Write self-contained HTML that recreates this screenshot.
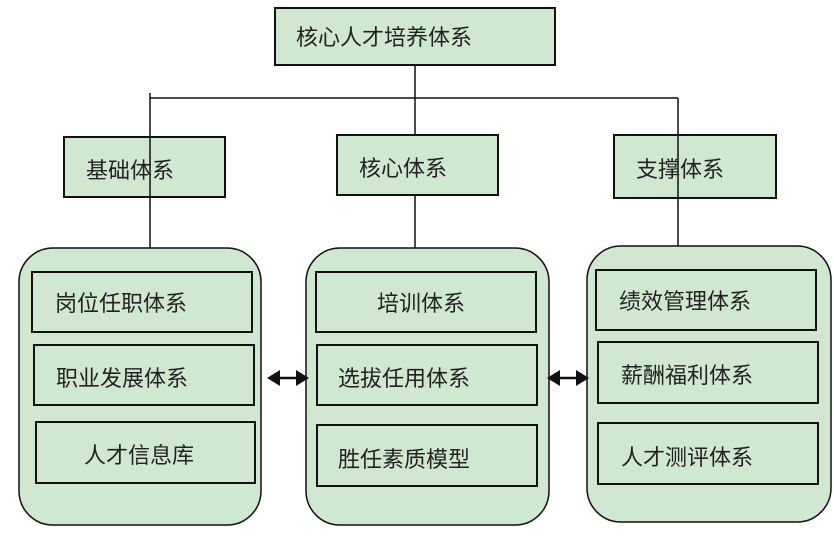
<!DOCTYPE html>
<html><head><meta charset="utf-8"><style>body{margin:0;background:#fff}svg{display:block}text{font-family:"Liberation Sans","Noto Sans CJK SC",sans-serif;font-size:22px;fill:#222}</style></head><body>
<svg width="834" height="543" viewBox="0 0 834 543">
<g stroke="#111" stroke-width="1.5" fill="none">
<line x1="415" y1="65" x2="415" y2="137"/>
<line x1="150" y1="98" x2="678" y2="98"/>
<line x1="415" y1="195" x2="415" y2="248"/>
</g>
<g fill="#d0e8d0" stroke="#111" stroke-width="2">
<rect x="275" y="8" width="280" height="57"/>
<rect x="64" y="137" width="161" height="60"/>
<rect x="337" y="135" width="161" height="60"/>
<rect x="614" y="135" width="162" height="63"/>
<rect x="19" y="248" width="242" height="277" rx="34" stroke-width="1.5"/>
<rect x="306" y="248" width="243" height="277" rx="34" stroke-width="1.5"/>
<rect x="587" y="246" width="244" height="276" rx="34" stroke-width="1.5"/>
<rect x="32" y="272" width="220" height="60"/>
<rect x="34" y="345" width="220" height="60"/>
<rect x="36" y="422" width="219" height="61"/>
<rect x="316" y="272" width="220" height="60"/>
<rect x="317" y="345" width="220" height="60"/>
<rect x="317" y="425" width="220" height="61"/>
<rect x="596" y="270" width="220" height="60"/>
<rect x="598" y="342" width="220" height="61"/>
<rect x="598" y="423" width="220" height="61"/>
</g>
<g stroke="#111" stroke-width="1.5">
<line x1="150" y1="93" x2="150" y2="248"/>
<line x1="678" y1="98" x2="678" y2="246"/>
</g>
<g stroke="#111" stroke-width="2.5"><line x1="276" y1="378" x2="300" y2="378"/><line x1="556" y1="378" x2="580" y2="378"/></g>
<g fill="#111">
<polygon points="267,378 280,370 280,386"/><polygon points="309,378 296,370 296,386"/>
<polygon points="547,378 560,370 560,386"/><polygon points="589,378 576,370 576,386"/>
</g>
<text x="296" y="45">核心人才培养体系</text>
<text x="86" y="178">基础体系</text>
<text x="359" y="176">核心体系</text>
<text x="636" y="177">支撑体系</text>
<text x="55" y="311">岗位任职体系</text>
<text x="56" y="386">职业发展体系</text>
<text x="84" y="463">人才信息库</text>
<text x="377" y="311">培训体系</text>
<text x="338" y="386">选拔任用体系</text>
<text x="338" y="467">胜任素质模型</text>
<text x="619" y="309">绩效管理体系</text>
<text x="621" y="383">薪酬福利体系</text>
<text x="621" y="465">人才测评体系</text>
</svg>
</body></html>
